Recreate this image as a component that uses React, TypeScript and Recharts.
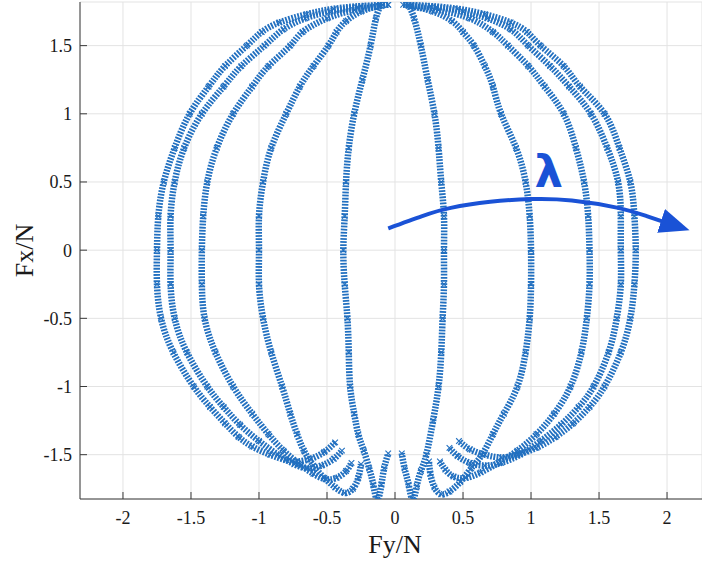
import React from "react";
import {
  ScatterChart,
  Scatter,
  XAxis,
  YAxis,
  CartesianGrid,
} from "recharts";

// Fy (x) / Fx (y) pairs, one array per marker trace
const leftA: [number, number][] = [
  [-0.05, 1.8], [-0.25, 1.79], [-0.45, 1.77], [-0.65, 1.73], [-0.85, 1.67], [-0.98, 1.6],
  [-1.09, 1.5], [-1.25, 1.35], [-1.37, 1.2], [-1.51, 1.0], [-1.62, 0.75], [-1.7, 0.5],
  [-1.74, 0.25], [-1.75, 0], [-1.75, -0.25], [-1.72, -0.5], [-1.63, -0.75], [-1.48, -1.0],
  [-1.36, -1.15], [-1.25, -1.27], [-1.15, -1.37], [-1.05, -1.44], [-0.92, -1.5], [-0.8, -1.54],
  [-0.72, -1.55], [-0.62, -1.53], [-0.52, -1.48], [-0.44, -1.41],
];
const leftB: [number, number][] = [
  [-0.05, 1.8], [-0.28, 1.78], [-0.48, 1.75], [-0.66, 1.7], [-0.82, 1.62], [-0.96, 1.5],
  [-1.13, 1.35], [-1.26, 1.2], [-1.42, 1.0], [-1.55, 0.75], [-1.62, 0.5], [-1.65, 0.25],
  [-1.65, 0], [-1.65, -0.25], [-1.62, -0.5], [-1.53, -0.75], [-1.38, -1.0], [-1.26, -1.15],
  [-1.14, -1.28], [-1.0, -1.4], [-0.86, -1.5], [-0.74, -1.57], [-0.64, -1.6], [-0.54, -1.58],
  [-0.45, -1.53], [-0.39, -1.47],
];
const leftC: [number, number][] = [
  [-0.1, 1.79], [-0.3, 1.76], [-0.5, 1.7], [-0.68, 1.6], [-0.77, 1.5], [-0.93, 1.35],
  [-1.05, 1.2], [-1.19, 1.0], [-1.31, 0.75], [-1.38, 0.5], [-1.41, 0.25], [-1.42, 0],
  [-1.42, -0.25], [-1.4, -0.5], [-1.32, -0.75], [-1.19, -1.0], [-1.05, -1.2], [-0.93, -1.35],
  [-0.82, -1.47], [-0.7, -1.57], [-0.6, -1.64], [-0.51, -1.68], [-0.43, -1.67], [-0.36, -1.62],
  [-0.32, -1.56],
];
const leftD: [number, number][] = [
  [-0.12, 1.79], [-0.25, 1.75], [-0.36, 1.68], [-0.43, 1.6], [-0.49, 1.5], [-0.6, 1.35],
  [-0.7, 1.2], [-0.8, 1.0], [-0.91, 0.75], [-0.97, 0.5], [-1.0, 0.25], [-1.0, 0],
  [-1.0, -0.25], [-0.97, -0.5], [-0.91, -0.75], [-0.83, -1.0], [-0.77, -1.2], [-0.72, -1.35],
  [-0.67, -1.47], [-0.6, -1.58], [-0.52, -1.67], [-0.44, -1.74], [-0.37, -1.78], [-0.31, -1.75],
  [-0.27, -1.67], [-0.25, -1.57],
];
const leftE: [number, number][] = [
  [-0.1, 1.81], [-0.14, 1.7], [-0.18, 1.5], [-0.24, 1.25], [-0.3, 1.0], [-0.34, 0.75],
  [-0.36, 0.5], [-0.37, 0.25], [-0.38, 0], [-0.37, -0.25], [-0.35, -0.5], [-0.34, -0.75],
  [-0.33, -1.0], [-0.3, -1.2], [-0.27, -1.35], [-0.23, -1.47], [-0.19, -1.6], [-0.16, -1.72],
  [-0.13, -1.83], [-0.1, -1.72], [-0.08, -1.6], [-0.05, -1.49],
];
const rightE: [number, number][] = [
  [0.1, 1.8], [0.14, 1.7], [0.19, 1.5], [0.24, 1.25], [0.29, 1.0], [0.32, 0.75],
  [0.34, 0.5], [0.36, 0.25], [0.36, 0], [0.36, -0.25], [0.35, -0.5], [0.34, -0.75],
  [0.32, -1.0], [0.28, -1.25], [0.23, -1.5], [0.19, -1.62], [0.16, -1.73], [0.13, -1.83],
  [0.1, -1.72], [0.07, -1.6], [0.05, -1.49],
];
const rightD: [number, number][] = [
  [0.12, 1.79], [0.28, 1.75], [0.42, 1.68], [0.5, 1.6], [0.58, 1.5], [0.66, 1.35],
  [0.72, 1.2], [0.78, 1.0], [0.89, 0.75], [0.96, 0.5], [0.99, 0.25], [1.0, 0],
  [1.0, -0.25], [0.99, -0.5], [0.96, -0.75], [0.9, -1.0], [0.8, -1.2], [0.72, -1.35],
  [0.64, -1.5], [0.56, -1.6], [0.48, -1.7], [0.4, -1.77], [0.34, -1.79], [0.29, -1.74],
  [0.26, -1.64], [0.25, -1.55],
];
const rightC: [number, number][] = [
  [0.1, 1.79], [0.32, 1.76], [0.55, 1.7], [0.72, 1.6], [0.83, 1.5], [0.98, 1.35],
  [1.1, 1.2], [1.24, 1.0], [1.33, 0.75], [1.39, 0.5], [1.42, 0.25], [1.43, 0],
  [1.43, -0.25], [1.41, -0.5], [1.37, -0.75], [1.29, -1.0], [1.17, -1.2], [1.04, -1.35],
  [0.9, -1.47], [0.76, -1.56], [0.63, -1.63], [0.52, -1.67], [0.43, -1.66], [0.37, -1.61],
  [0.33, -1.55],
];
const rightB: [number, number][] = [
  [0.08, 1.8], [0.3, 1.78], [0.5, 1.75], [0.68, 1.7], [0.85, 1.62], [0.98, 1.5],
  [1.14, 1.35], [1.28, 1.2], [1.44, 1.0], [1.56, 0.75], [1.64, 0.5], [1.66, 0.25],
  [1.66, 0], [1.66, -0.25], [1.63, -0.5], [1.57, -0.75], [1.46, -1.0], [1.35, -1.15],
  [1.22, -1.28], [1.07, -1.4], [0.92, -1.5], [0.78, -1.56], [0.66, -1.58], [0.55, -1.56],
  [0.46, -1.51], [0.4, -1.45],
];
const rightA: [number, number][] = [
  [0.06, 1.8], [0.26, 1.79], [0.46, 1.77], [0.66, 1.73], [0.85, 1.67], [0.97, 1.6],
  [1.07, 1.5], [1.24, 1.35], [1.36, 1.2], [1.54, 1.0], [1.65, 0.75], [1.73, 0.5],
  [1.76, 0.25], [1.77, 0], [1.76, -0.25], [1.73, -0.5], [1.66, -0.75], [1.54, -1.0],
  [1.43, -1.15], [1.31, -1.27], [1.18, -1.37], [1.04, -1.45], [0.9, -1.5], [0.78, -1.52],
  [0.66, -1.5], [0.55, -1.46], [0.47, -1.4],
];

// the λ arrow drawn over the data, in data units
const arrowPath: [number, number][] = [
  [-0.05, 0.16], [0.2, 0.25], [0.41, 0.31], [0.7, 0.355], [1.0, 0.375],
  [1.3, 0.365], [1.64, 0.31], [1.85, 0.25], [1.97, 0.21],
];
const lambdaAt: [number, number][] = [[1.13, 0.46]];

const xTicks = [-2, -1.5, -1, -0.5, 0, 0.5, 1, 1.5, 2];
const yTicks = [-1.5, -1, -0.5, 0, 0.5, 1, 1.5];
const xDomain: [number, number] = [-2.316, 2.257];
const yDomain: [number, number] = [-1.825, 1.82];

const traces = [leftA, leftB, leftC, leftD, leftE, rightE, rightD, rightC, rightB, rightA];

const BLUE = "#2270c0";
const ARROW = "#1a52d6";
const AXIS = "#3a3a3a";
const SERIF = '"Liberation Serif", "Times New Roman", serif';

const toPts = (arr: [number, number][]) => arr.map(([x, y]) => ({ x, y }));

const XMark = (props: any) => {
  const { cx, cy } = props;
  const r = 2.8;
  return (
    <path
      d={`M${cx - r},${cy - r}L${cx + r},${cy + r}M${cx - r},${cy + r}L${cx + r},${cy - r}`}
      stroke={BLUE}
      strokeWidth={1.1}
      fill="none"
    />
  );
};

const Nothing = () => <g />;

const Lambda = (props: any) => (
  <text
    x={props.cx}
    y={props.cy}
    textAnchor="middle"
    fill={ARROW}
    fontSize={45}
    fontWeight="bold"
    fontFamily='"DejaVu Sans", sans-serif'
  >
    λ
  </text>
);

const BottomTick = (props: any) => (
  <text
    x={props.x}
    y={props.y}
    dy="0.71em"
    textAnchor="middle"
    fill="#1a1a1a"
    fontSize={18}
    fontFamily={SERIF}
  >
    {String(props.payload.value)}
  </text>
);

const LeftTick = (props: any) => (
  <text
    x={props.x}
    y={props.y}
    dy="0.355em"
    textAnchor="end"
    fill="#1a1a1a"
    fontSize={18}
    fontFamily={SERIF}
  >
    {String(props.payload.value)}
  </text>
);

export default function App() {
  return (
    <div style={{ position: "absolute", left: 0, top: 0, width: 702, height: 566, background: "#fff" }}>
      <ScatterChart width={702} height={566} margin={{ top: 2, right: 0, bottom: 0, left: 0 }}>
        <defs>
          <marker
            id="lambdaHead"
            markerWidth={31}
            markerHeight={25}
            refX={2}
            refY={12.5}
            orient="auto"
            markerUnits="userSpaceOnUse"
          >
            <path d="M0,0 L30,12.5 L0,25 z" fill={ARROW} />
          </marker>
        </defs>
        <CartesianGrid stroke="#e3e3e3" strokeWidth={1} />
        <XAxis
          dataKey="x"
          type="number"
          domain={xDomain}
          ticks={xTicks}
          allowDataOverflow
          height={67}
          tickSize={-7}
          tickMargin={19}
          tick={BottomTick}
          tickLine={{ stroke: AXIS }}
          axisLine={{ stroke: AXIS }}
          label={{
            content: (p: any) => {
              const vb = p.viewBox;
              return (
                <text
                  x={vb.x + vb.width / 2 + 4}
                  y={vb.y + 54}
                  textAnchor="middle"
                  fontSize={26}
                  fontFamily={SERIF}
                  fill="#1a1a1a"
                >
                  Fy/N
                </text>
              );
            },
          }}
        />
        <XAxis
          xAxisId="top"
          orientation="top"
          dataKey="x"
          type="number"
          domain={xDomain}
          ticks={xTicks}
          allowDataOverflow
          height={0}
          tickSize={-7}
          tickFormatter={() => ""}
          tickLine={{ stroke: AXIS }}
          axisLine={{ stroke: AXIS }}
        />
        <YAxis
          dataKey="y"
          type="number"
          domain={yDomain}
          ticks={yTicks}
          allowDataOverflow
          width={80}
          tickSize={-7}
          tickMargin={15}
          tick={LeftTick}
          tickLine={{ stroke: AXIS }}
          axisLine={{ stroke: AXIS }}
          label={{
            content: (p: any) => {
              const vb = p.viewBox;
              const cx = vb.x + 33;
              const cy = vb.y + vb.height / 2;
              return (
                <text
                  x={cx}
                  y={cy}
                  transform={`rotate(-90 ${cx} ${cy})`}
                  textAnchor="middle"
                  fontSize={26}
                  fontFamily={SERIF}
                  fill="#1a1a1a"
                >
                  Fx/N
                </text>
              );
            },
          }}
        />
        {traces.map((t, i) => (
          <Scatter
            key={i}
            data={toPts(t)}
            fill={BLUE}
            shape={XMark}
            line={{ stroke: BLUE, strokeWidth: 6.5, strokeDasharray: "1.8 1.3" }}
            lineJointType="natural"
            isAnimationActive={false}
          />
        ))}
        <Scatter
          data={toPts(arrowPath)}
          fill={ARROW}
          shape={Nothing}
          line={{ stroke: ARROW, strokeWidth: 4, fill: "none", markerEnd: "url(#lambdaHead)" }}
          lineJointType="natural"
          isAnimationActive={false}
        />
        <Scatter data={toPts(lambdaAt)} fill={ARROW} shape={Lambda} isAnimationActive={false} />
      </ScatterChart>
    </div>
  );
}
